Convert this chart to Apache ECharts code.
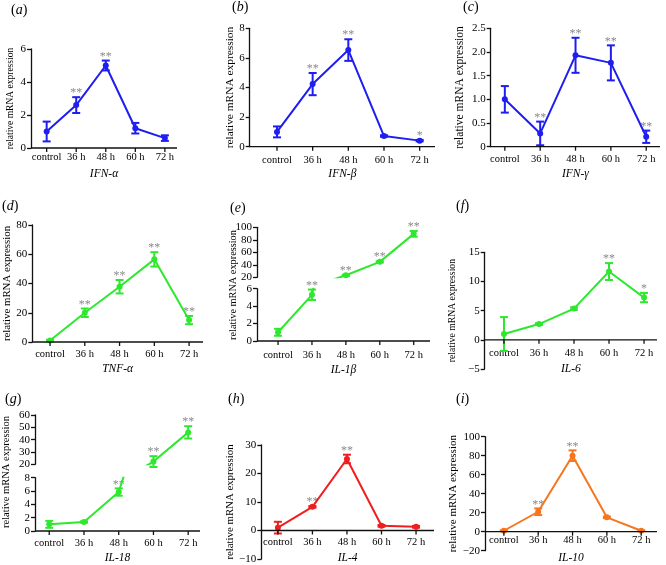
<!DOCTYPE html>
<html>
<head>
<meta charset="utf-8">
<script src="https://cdn.jsdelivr.net/npm/echarts@6/dist/echarts.min.js"></script>
<style>
html,body{margin:0;padding:0;background:#fff;}
#chart{width:666px;height:565px;}
</style>
</head>
<body>
<div id="chart"></div>
<script>
// ---------- data ----------
const categories = ['control', '36 h', '48 h', '60 h', '72 h'];

const ifnAlphaMean = [1.0, 2.6, 5.0, 1.2, 0.6];
const ifnAlphaSD = [0.6, 0.48, 0.3, 0.32, 0.17];
const ifnAlphaStars = ['', '**', '**', '', ''];
const ifnAlphaTicks = [0, 2, 4, 6];

const ifnBetaMean = [1.0, 4.23, 6.53, 0.72, 0.41];
const ifnBetaSD = [0.37, 0.75, 0.73, 0.05, 0.05];
const ifnBetaStars = ['', '**', '**', '', '*'];
const ifnBetaTicks = [0, 2, 4, 6, 8];

const ifnGammaMean = [1.0, 0.28, 1.93, 1.77, 0.21];
const ifnGammaSD = [0.28, 0.25, 0.37, 0.37, 0.13];
const ifnGammaStars = ['', '**', '**', '**', '**'];
const ifnGammaTicks = [0, 0.5, 1.0, 1.5, 2.0, 2.5];

const tnfAlphaMean = [1.0, 20, 37.8, 56.5, 15];
const tnfAlphaSD = [0.5, 2.9, 4.6, 4.9, 2.8];
const tnfAlphaStars = ['', '**', '**', '**', '**'];
const tnfAlphaTicks = [0, 20, 40, 60, 80];

const il1bMean = [1.0, 5.3, 23.2, 44.7, 89.5];
const il1bSD = [0.4, 0.6, 1.0, 1.0, 4.5];
const il1bStars = ['', '**', '**', '**', '**'];
const il1bTicksLow = [0, 2, 4, 6];
const il1bTicksHigh = [20, 40, 60, 80, 100];

const il6Mean = [1.0, 2.7, 5.35, 11.7, 7.24];
const il6SD = [2.9, 0.15, 0.2, 1.45, 0.8];
const il6Stars = ['', '', '', '**', '*'];
const il6Ticks = [-5, 0, 5, 10, 15];

const il18Mean = [1.0, 1.35, 5.85, 22.2, 45.9];
const il18SD = [0.52, 0.1, 0.55, 4.4, 5.0];
const il18Stars = ['', '', '**', '**', '**'];
const il18TicksLow = [0, 2, 4, 6, 8];
const il18TicksHigh = [20, 30, 40, 50, 60];

const il4Mean = [1.0, 8.3, 25.1, 1.64, 1.3];
const il4SD = [2.05, 0.3, 1.5, 0.3, 0.3];
const il4Stars = ['', '**', '**', '', ''];
const il4Ticks = [-10, 0, 10, 20, 30];

const il10Mean = [1.0, 21, 80, 15.1, 1.0];
const il10SD = [0.5, 3.5, 5.6, 0.8, 0.5];
const il10Stars = ['', '**', '**', '', ''];
const il10Ticks = [-20, 0, 20, 40, 60, 80, 100];

const yAxisTitle = 'relative mRNA expression';

// ---------- build ----------
const FONT = '"Liberation Serif", "Times New Roman", serif';
const BLUE = '#1e1ef0', GREEN = '#2ee82e', RED = '#f01e1e', ORANGE = '#f5761f';
const AXIS_COLOR = '#111111';
function axisStroke() { return { color: AXIS_COLOR, width: 1.3, type: 'solid', opacity: 1 }; }

const option = {
  animation: false,
  backgroundColor: '#ffffff',
  title: [], grid: [], xAxis: [], yAxis: [], series: [], graphic: []
};
const baselines = [];

function addTitle(letter, left, top) {
  option.title.push({
    text: '{p|(}{l|' + letter + '}{p|)}',
    left: left, top: top, padding: 0,
    textStyle: {
      fontWeight: 'normal',
      rich: {
        p: { fontFamily: FONT, fontSize: 14, fontWeight: 'normal', color: '#000' },
        l: { fontFamily: FONT, fontSize: 14, fontWeight: 'normal', fontStyle: 'italic', color: '#000' }
      }
    }
  });
}

function addXAxis(gi, p, visible, gridH, ticks) {
  let offset = 0;
  if (ticks && ticks[0] < 0) {
    const lo = ticks[0], hi = ticks[ticks.length - 1];
    offset = -gridH * (0 - lo) / (hi - lo);
  }
  const ax = {
    type: 'value', gridIndex: gi, min: p.xMin, max: p.xMax,
    position: 'bottom', offset: offset,
    axisLine: { show: false, onZero: false, lineStyle: axisStroke() },
    axisTick: { show: false, length: 4, customValues: [0, 1, 2, 3, 4], lineStyle: axisStroke() },
    axisLabel: {
      customValues: [0, 1, 2, 3, 4],
      formatter: v => categories[Math.round(v)],
      margin: p.labelMargin, fontFamily: FONT, fontSize: 10.5, color: '#000'
    },
    splitLine: { show: false }
  };
  if (visible) {
    ax.name = p.gene;
    ax.nameLocation = 'middle';
    ax.nameGap = p.xNameGap;
    ax.nameTextStyle = { fontFamily: FONT, fontStyle: 'italic', fontSize: 11.5, color: '#000' };
  } else {
    ax.show = false;
  }
  option.xAxis.push(ax);
  return option.xAxis.length - 1;
}

function addYAxis(gi, ticks, p, withName, decimals) {
  const ax = {
    type: 'value', gridIndex: gi, position: 'left', z: 6,
    min: ticks[0], max: ticks[ticks.length - 1], interval: ticks[1] - ticks[0],
    axisLine: { show: true, onZero: false, lineStyle: axisStroke() },
    axisTick: { show: true, length: 4, lineStyle: axisStroke() },
    axisLabel: {
      margin: 5, fontFamily: FONT, fontSize: 11, color: '#000',
      formatter: v => {
        const s = (decimals && v !== 0) ? v.toFixed(1) : String(v);
        return s.replace('-', '\u2212');
      }
    },
    splitLine: { show: false }
  };
  if (withName) {
    ax.name = yAxisTitle;
    ax.nameLocation = 'middle';
    ax.nameGap = p.yNameGap;
    ax.nameTextStyle = { fontFamily: FONT, fontSize: p.yNameSize, color: '#000' };
  }
  option.yAxis.push(ax);
  return option.yAxis.length - 1;
}

function addSeries(xi, yi, p, lo, hi) {
  option.series.push({
    type: 'line', xAxisIndex: xi, yAxisIndex: yi, silent: true, clip: true,
    data: p.mean.map((m, i) => [i, m]),
    symbol: 'circle', symbolSize: 6,
    lineStyle: { color: p.color, width: 2 },
    itemStyle: { color: p.color }
  });
  option.series.push({
    type: 'custom', xAxisIndex: xi, yAxisIndex: yi, silent: true, clip: false, z: 3,
    data: p.mean.map((m, i) => [i, m, p.sd[i]]),
    renderItem: function (params, api) {
      const i = api.value(0), m = api.value(1), s = api.value(2);
      if (m < lo || m > hi) return null;
      const top = api.coord([i, m + s]);
      const bot = api.coord([i, m - s]);
      const w = 4;
      const st = { stroke: p.color, lineWidth: 2 };
      const children = [
        { type: 'line', shape: { x1: top[0], y1: top[1], x2: bot[0], y2: bot[1] }, style: st },
        { type: 'line', shape: { x1: top[0] - w, y1: top[1], x2: top[0] + w, y2: top[1] }, style: st },
        { type: 'line', shape: { x1: bot[0] - w, y1: bot[1], x2: bot[0] + w, y2: bot[1] }, style: st }
      ];
      const star = p.stars[params.dataIndex];
      if (star) {
        children.push({
          type: 'text',
          style: {
            text: star, x: top[0], y: top[1] + 2, align: 'center', verticalAlign: 'bottom',
            fill: '#8a8a8a', fontFamily: FONT, fontSize: 12
          }
        });
      }
      return { type: 'group', children: children };
    }
  });
}

function addPanel(p) {
  addTitle(p.letter, p.titleX, p.titleY);
  option.grid.push({ left: p.g[0], top: p.g[1], width: p.g[2], height: p.g[3] });
  const gi = option.grid.length - 1;
  const xi = addXAxis(gi, p, true, p.g[3], p.ticks);
  const yi = addYAxis(gi, p.ticks, p, true, p.decimals);
  baselines.push({ xi: xi, yi: yi, p: p });
  addSeries(xi, yi, p, -Infinity, Infinity);
}

function addBrokenPanel(p) {
  addTitle(p.letter, p.titleX, p.titleY);
  option.grid.push({ left: p.gUp[0], top: p.gUp[1], width: p.gUp[2], height: p.gUp[3] });
  const gu = option.grid.length - 1;
  const xu = addXAxis(gu, p, false, p.gUp[3], null);
  const yu = addYAxis(gu, p.ticksHigh, p, false, false);
  addSeries(xu, yu, p, p.ticksHigh[0], Infinity);
  option.grid.push({ left: p.gLow[0], top: p.gLow[1], width: p.gLow[2], height: p.gLow[3] });
  const gl = option.grid.length - 1;
  const xl = addXAxis(gl, p, true, p.gLow[3], null);
  const yl = addYAxis(gl, p.ticksLow, p, false, false);
  baselines.push({ xi: xl, yi: yl, p: p });
  addSeries(xl, yl, p, -Infinity, p.ticksLow[p.ticksLow.length - 1]);
  option.graphic.push({
    type: 'text', x: p.yNameX, y: p.yNameY, rotation: Math.PI / 2, silent: true,
    style: { text: yAxisTitle, fontFamily: FONT, fontSize: p.yNameSize, fill: '#000', align: 'center', verticalAlign: 'middle' }
  });
}

addPanel({ letter: 'a', titleX: 11, titleY: 3, gene: 'IFN-\u03b1', color: BLUE,
  mean: ifnAlphaMean, sd: ifnAlphaSD, stars: ifnAlphaStars, ticks: ifnAlphaTicks,
  g: [31, 49, 146, 99], xMin: -0.53, xMax: 4.41, labelMargin: 4, xNameGap: 20, yNameGap: 16, yNameSize: 9.5 });

addPanel({ letter: 'b', titleX: 232, titleY: 0, gene: 'IFN-\u03b2', color: BLUE,
  mean: ifnBetaMean, sd: ifnBetaSD, stars: ifnBetaStars, ticks: ifnBetaTicks,
  g: [249.7, 28.3, 185.3, 118.4], xMin: -0.765, xMax: 4.43, labelMargin: 8, xNameGap: 21, yNameGap: 11, yNameSize: 11.4 });

addPanel({ letter: 'c', titleX: 463, titleY: 0, gene: 'IFN-\u03b3', color: BLUE,
  mean: ifnGammaMean, sd: ifnGammaSD, stars: ifnGammaStars, ticks: ifnGammaTicks, decimals: true,
  g: [490.7, 28.3, 169.3, 118.4], xMin: -0.40, xMax: 4.39, labelMargin: 7, xNameGap: 21, yNameGap: 25, yNameSize: 11.5 });

addPanel({ letter: 'd', titleX: 2, titleY: 199.5, gene: 'TNF-\u03b1', color: GREEN,
  mean: tnfAlphaMean, sd: tnfAlphaSD, stars: tnfAlphaStars, ticks: tnfAlphaTicks,
  g: [32.3, 225, 170.7, 117], xMin: -0.51, xMax: 4.40, labelMargin: 7, xNameGap: 21, yNameGap: 18.5, yNameSize: 10.8 });

addBrokenPanel({ letter: 'e', titleX: 230, titleY: 201.7, gene: 'IL-1\u03b2', color: GREEN,
  mean: il1bMean, sd: il1bSD, stars: il1bStars, ticksLow: il1bTicksLow, ticksHigh: il1bTicksHigh,
  gUp: [257, 227.3, 173, 50], gLow: [257, 288.7, 173, 52.3], xMin: -0.62, xMax: 4.48,
  labelMargin: 9, xNameGap: 23, yNameX: 233.5, yNameY: 285, yNameSize: 10.3 });

addPanel({ letter: 'f', titleX: 456, titleY: 199.5, gene: 'IL-6', color: GREEN,
  mean: il6Mean, sd: il6SD, stars: il6Stars, ticks: il6Ticks,
  g: [484.7, 252.3, 172.3, 116.7], xMin: -0.55, xMax: 4.37, labelMargin: 8, xNameGap: 23, yNameGap: 27.5, yNameSize: 9.7 });

addBrokenPanel({ letter: 'g', titleX: 5, titleY: 392, gene: 'IL-18', color: GREEN,
  mean: il18Mean, sd: il18SD, stars: il18Stars, ticksLow: il18TicksLow, ticksHigh: il18TicksHigh,
  gUp: [35, 415, 165, 49.3], gLow: [35, 477.7, 165, 53.3], xMin: -0.41, xMax: 4.34,
  labelMargin: 7, xNameGap: 20.7, yNameX: 6.7, yNameY: 472, yNameSize: 10.5 });

addPanel({ letter: 'h', titleX: 228, titleY: 392, gene: 'IL-4', color: RED,
  mean: il4Mean, sd: il4SD, stars: il4Stars, ticks: il4Ticks,
  g: [261.3, 445, 172.7, 114], xMin: -0.48, xMax: 4.52, labelMargin: 6, xNameGap: 21, yNameGap: 24, yNameSize: 10.8 });

addPanel({ letter: 'i', titleX: 456, titleY: 392, gene: 'IL-10', color: ORANGE,
  mean: il10Mean, sd: il10SD, stars: il10Stars, ticks: il10Ticks,
  g: [485, 436.7, 172, 114], xMin: -0.55, xMax: 4.46, labelMargin: 3, xNameGap: 20, yNameGap: 26.5, yNameSize: 11 });

const chart = echarts.init(document.getElementById('chart'), null, { renderer: 'canvas' });
chart.setOption(option);

// x baselines (y = 0) with a tick under each category, placed through the axes' own scales
const extra = [];
baselines.forEach(b => {
  const finder = { xAxisIndex: b.xi, yAxisIndex: b.yi };
  const a = chart.convertToPixel(finder, [b.p.xMin, 0]);
  const e = chart.convertToPixel(finder, [b.p.xMax, 0]);
  if (!a || !e) return;
  const st = { stroke: AXIS_COLOR, lineWidth: 1.3 };
  extra.push({ type: 'line', silent: true, z: 100, shape: { x1: a[0], y1: a[1], x2: e[0], y2: e[1] }, style: st });
  categories.forEach((c, i) => {
    const t = chart.convertToPixel(finder, [i, 0]);
    if (t) extra.push({ type: 'line', silent: true, z: 100, shape: { x1: t[0], y1: t[1], x2: t[0], y2: t[1] + 4 }, style: st });
  });
});
chart.setOption({ graphic: option.graphic.concat(extra) });
</script>
</body>
</html>
